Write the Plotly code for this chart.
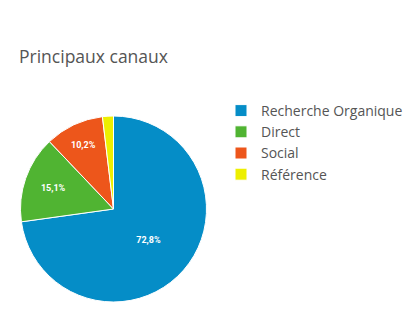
import plotly.graph_objects as go

labels = ["Recherche Organique", "Direct", "Social", "Référence"]
values = [72.8, 15.1, 10.2, 1.9]
texts = ["72,8%", "15,1%", "10,2%", ""]
colors = ["#058DC7", "#50B432", "#ED561B", "#EDEF00"]

W, H = 414, 318

fig = go.Figure(go.Pie(
    labels=labels, values=values, text=texts, textinfo="text",
    sort=False, direction="clockwise", rotation=0,
    marker=dict(colors=colors, line=dict(color="white", width=1)),
    textposition="inside", insidetextorientation="horizontal",
    textfont=dict(color="white", size=9, family="Roboto", weight="bold"),
    hoverinfo="skip",
    domain=dict(x=[12 / W, 199 / W], y=[(H - 294) / H, (H - 108) / H]),
))

fig.update_layout(
    width=W, height=H,
    margin=dict(l=0, r=0, t=0, b=0),
    paper_bgcolor="white", plot_bgcolor="white",
    showlegend=True,
    legend=dict(x=213 / W, y=(H - 87) / H, xanchor="left", yanchor="top",
                font=dict(size=14, color="#555", family="Open Sans"),
                tracegroupgap=0, itemclick=False),
    annotations=[dict(text="Principaux canaux", x=9 / W, y=(H - 48) / H,
                      xref="paper", yref="paper", xanchor="left", yanchor="middle",
                      showarrow=False, font=dict(size=17.5, color="#555", family="Open Sans"))],
)

fig.write_html("out.html")
